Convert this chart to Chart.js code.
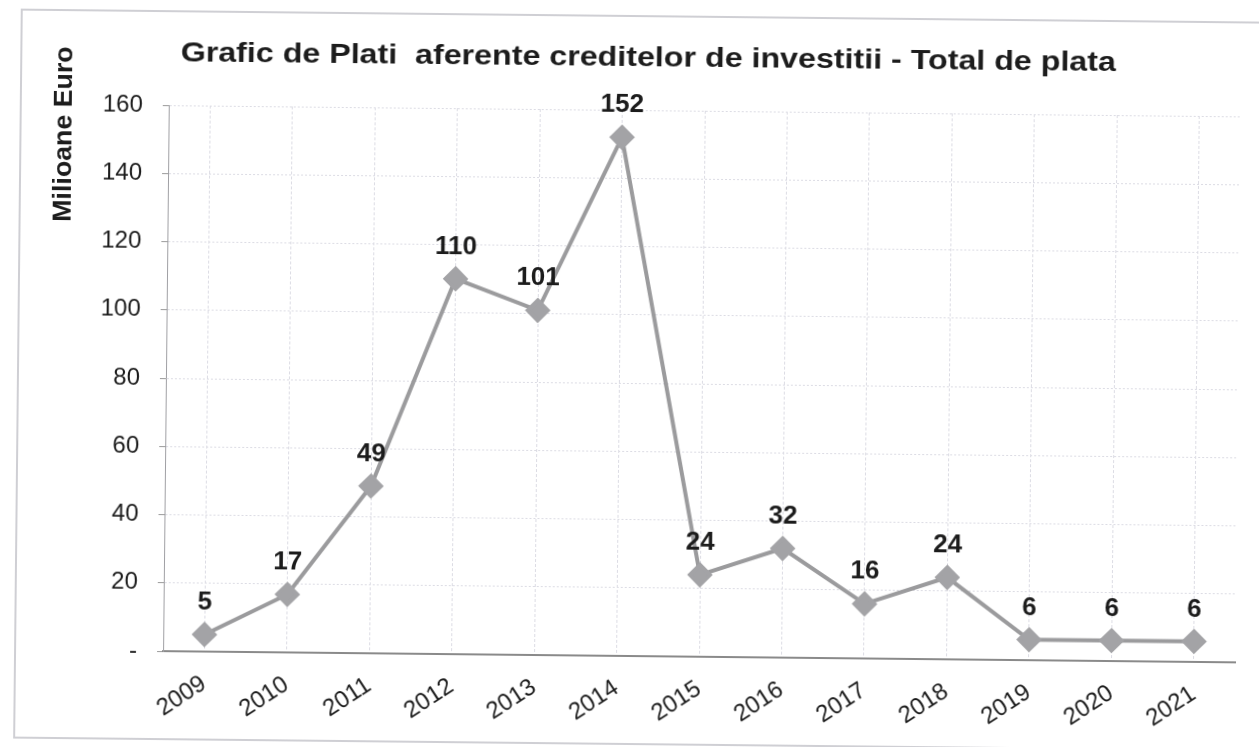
<!DOCTYPE html>
<html>
<head>
<meta charset="utf-8">
<script src="https://cdn.jsdelivr.net/npm/chart.js@4"></script>
<style>
  body { margin: 0; background: #fff; }
  #wrap { width: 1259px; height: 747px; transform: rotate(0.6deg); }
</style>
</head>
<body>
<div id="wrap"><canvas id="plataChart" width="1259" height="747"></canvas></div>
<script>
const chartTitle = "Grafic de Plati  aferente creditelor de investitii - Total de plata";
const yTitle = "Milioane Euro";
const years = ["2009", "2010", "2011", "2012", "2013", "2014", "2015", "2016", "2017", "2018", "2019", "2020", "2021"];
const totalPlata = [5, 17, 49, 110, 101, 152, 24, 32, 16, 24, 6, 6, 6];
const yMin = 0;
const yMax = 160;
const yStep = 20;

const FONT = "'Liberation Sans', Arial, sans-serif";

// frame, titles and value labels
const decorPlugin = {
  id: "decor",
  beforeDraw(chart) {
    const ctx = chart.ctx;
    ctx.save();
    ctx.strokeStyle = "#cfcfd4";
    ctx.lineWidth = 2;
    ctx.strokeRect(18, 16, 1255, 728);
    ctx.restore();
  },
  afterDatasetsDraw(chart) {
    const ctx = chart.ctx;
    const meta = chart.getDatasetMeta(0);
    ctx.save();
    ctx.fillStyle = "#1c1c1c";
    ctx.font = "bold 26px " + FONT;
    ctx.textAlign = "center";
    ctx.textBaseline = "alphabetic";
    meta.data.forEach((pt, i) => {
      ctx.fillText(String(totalPlata[i]), pt.x, pt.y - 25);
    });
    // chart title (scan glyphs are a bit wider)
    ctx.save();
    ctx.translate(645, 66);
    ctx.scale(1.15, 1);
    ctx.font = "bold 28px " + FONT;
    ctx.fillText(chartTitle, 0, 0);
    ctx.restore();
    // y axis title
    ctx.translate(69, 140);
    ctx.rotate(-Math.PI / 2);
    ctx.scale(1.07, 1);
    ctx.font = "bold 25px " + FONT;
    ctx.fillText(yTitle, 0, 0);
    ctx.restore();
  },
};

const ctx = document.getElementById("plataChart").getContext("2d");
const plataChart = new Chart(ctx, {
  type: "line",
  data: {
    labels: years,
    datasets: [
      {
        label: "Total de plata",
        data: totalPlata,
        borderColor: "#9b9b9d",
        backgroundColor: "#a3a3a6",
        borderWidth: 4,
        pointStyle: "rectRot",
        pointRadius: 10,
        pointBackgroundColor: "#a3a3a6",
        pointBorderColor: "#a3a3a6",
        tension: 0,
      },
    ],
  },
  options: {
    responsive: false,
    animation: false,
    layout: {
      padding: { top: 110, left: 20, right: 21, bottom: 8 },
    },
    plugins: {
      legend: { display: false },
      tooltip: { enabled: false },
    },
    scales: {
      x: {
        offset: true,
        grid: {
          offset: false,
          color: "#dcdce4",
          lineWidth: 1,
          drawTicks: false,
        },
        border: {
          color: "#8a8a8a",
          width: 2,
          dash: [3, 2],
        },
        ticks: {
          color: "#1c1c1c",
          font: { size: 24, family: FONT },
          minRotation: 34,
          maxRotation: 34,
          padding: 18,
        },
        afterFit(scale) {
          scale.height = 83;
        },
      },
      y: {
        min: yMin,
        max: yMax,
        ticks: {
          stepSize: yStep,
          color: "#1c1c1c",
          font: { size: 24, family: FONT },
          padding: 20,
          callback: (v) => (v === 0 ? "-" : v),
        },
        grid: {
          color: "#dcdce4",
          lineWidth: 1,
          tickLength: 6,
          tickColor: "#9a9a9a",
        },
        border: {
          color: "#a0a0a4",
          width: 1,
          dash: [2, 2],
        },
        afterFit(scale) {
          scale.width = 146;
        },
      },
    },
  },
  plugins: [decorPlugin],
});
</script>
</body>
</html>
